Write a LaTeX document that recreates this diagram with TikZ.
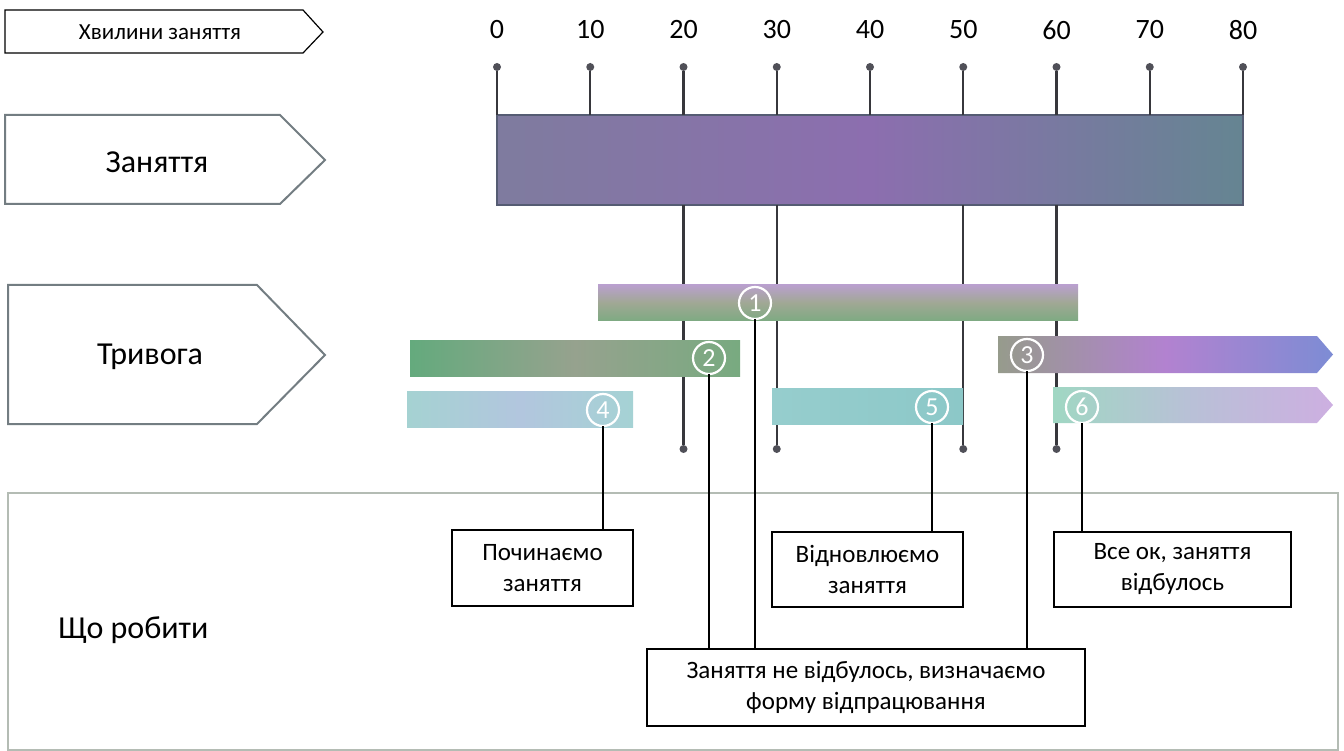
\documentclass[tikz,border=0pt]{standalone}
\usepackage{fontspec}
\setmainfont{Carlito}

\definecolor{tickgray}{RGB}{55,55,60}
\definecolor{pingray}{RGB}{80,80,88}
\definecolor{tagline}{RGB}{115,125,130}
\definecolor{barline}{RGB}{85,92,115}
\definecolor{frameline}{RGB}{180,188,180}
\definecolor{lessongreen}{RGB}{95,155,120}
\definecolor{lessonpurple}{RGB}{140,110,175}
\definecolor{lessonteal}{RGB}{80,145,130}

\tikzset{
  pin/.style={circle, fill=pingray, inner sep=0pt, minimum size=8pt},
  tickline/.style={draw=tickgray, line width=2.4pt},
  tag/.style={draw=tagline, line width=2pt, fill=white},
  tagtext/.style={font=\fontsize{32}{38}\selectfont},
  alarm/.style={inner sep=0pt, minimum height=36pt},
  num/.style={circle, draw=white, line width=2.2pt, minimum size=32pt, inner sep=0pt,
    text=white, font=\fontsize{26}{26}\selectfont},
  todo/.style={draw, line width=1.6pt, fill=white, align=center, inner sep=0pt,
    font=\fontsize{25}{31}\selectfont},
  link/.style={draw, line width=1.5pt}
}

\begin{document}
\begin{tikzpicture}[x=1pt,y=-1pt,every node/.append style={outer sep=0pt}]
\useasboundingbox (0,0) rectangle (1344,751);

% headers on the left
\draw[line width=1.2pt, fill=white] (5,10) -- (303,10) -- (323,32) -- (303,53) -- (5,53) -- cycle;
\node[font=\fontsize{23}{27}\selectfont] (minutes) at (160,32) {Хвилини заняття};
\draw[tag] (5,115) -- (280,115) -- (325,160) -- (280,204) -- (5,204) -- cycle;
\node[tagtext] (lessontag) at (157,162) {Заняття};
\draw[tag] (8,285) -- (257,285) -- (325,355) -- (257,424) -- (8,424) -- cycle;
\node[tagtext] (alarmtag) at (150,357) {Тривога};

% what to do
\draw[frameline, line width=2pt] (8,493) rectangle (1338,750);
\node[tagtext, anchor=west] (whattodo) at (55,630) {Що робити};

% time scale
\node[draw=barline, line width=2pt, minimum width=746pt, minimum height=90pt,
  left color=lessonpurple!70!lessongreen, right color=lessonpurple!35!lessonteal, middle color=lessonpurple]
  (lesson) at (870,160) {};
\foreach \m in {0,10,...,80}{
  \node[font=\fontsize{28}{32}\selectfont] (n\m) at ({497+9.325*\m},30) {\m};
  \node[pin] (top\m) at ({497+9.325*\m},67) {};
  \draw[tickline] (top\m) -- (top\m |- lesson.north);
}
\foreach \m in {20,30,50,60}{
  \node[pin] (bot\m) at ({497+9.325*\m},449) {};
  \draw[tickline] (bot\m |- lesson.south) -- (bot\m);
}

% alarms
\node[alarm, minimum width=480pt, top color={rgb,255:red,185;green,160;blue,205},
  bottom color={rgb,255:red,125;green,170;blue,130}, middle color={rgb,255:red,160;green,168;blue,148}]
  (a1) at (838,303) {};
\node[alarm, minimum width=330pt, left color={rgb,255:red,100;green,170;blue,125},
  right color={rgb,255:red,120;green,170;blue,128}, middle color={rgb,255:red,150;green,162;blue,142}]
  (a2) at (575,358) {};
\node[alarm, minimum width=226pt, left color={rgb,255:red,165;green,210;blue,210},
  right color={rgb,255:red,165;green,210;blue,212}, middle color={rgb,255:red,178;green,198;blue,222}]
  (a4) at (520,409) {};
\node[alarm, minimum width=191pt, left color={rgb,255:red,150;green,205;blue,205},
  right color={rgb,255:red,140;green,200;blue,200}]
  (a5) at (867.5,406) {};
\shade[left color={rgb,255:red,150;green,155;blue,140}, right color={rgb,255:red,125;green,140;blue,212},
  middle color={rgb,255:red,178;green,130;blue,208}]
  (998,336) -- (1317,336) -- (1333,354.5) -- (1317,373) -- (998,373) -- cycle;
\shade[left color={rgb,255:red,160;green,215;blue,195}, right color={rgb,255:red,205;green,175;blue,225},
  middle color={rgb,255:red,185;green,192;blue,215}]
  (1053,387) -- (1317,387) -- (1333,405) -- (1317,423) -- (1053,423) -- cycle;

\node[num] (c1) at (755,303) {1};
\node[num] (c2) at (709,358) {2};
\node[num] (c3) at (1027,355) {3};
\node[num] (c4) at (603,410) {4};
\node[num] (c5) at (932,407) {5};
\node[num] (c6) at (1082,407) {6};

% actions
\node[todo, minimum width=181pt, minimum height=76pt] (start) at (542.5,568) {Починаємо\\заняття};
\node[todo, minimum width=191pt, minimum height=75pt] (resume) at (867.5,569.5) {Відновлюємо\\заняття};
\node[todo, minimum width=237pt, minimum height=75pt] (fine) at (1172.5,569.5) {Все ок, заняття\\відбулось};
\node[todo, minimum width=438pt, minimum height=77pt] (fail) at (866,687.5) {Заняття не відбулось, визначаємо\\форму відпрацювання};

\draw[link] (c4.south) -- (c4.south |- start.north);
\draw[link] (c5.south) -- (c5.south |- resume.north);
\draw[link] (c6.south) -- (c6.south |- fine.north);
\draw[link] (c1.south) -- (c1.south |- fail.north);
\draw[link] (c2.south) -- (c2.south |- fail.north);
\draw[link] (c3.south) -- (c3.south |- fail.north);
\end{tikzpicture}
\end{document}
